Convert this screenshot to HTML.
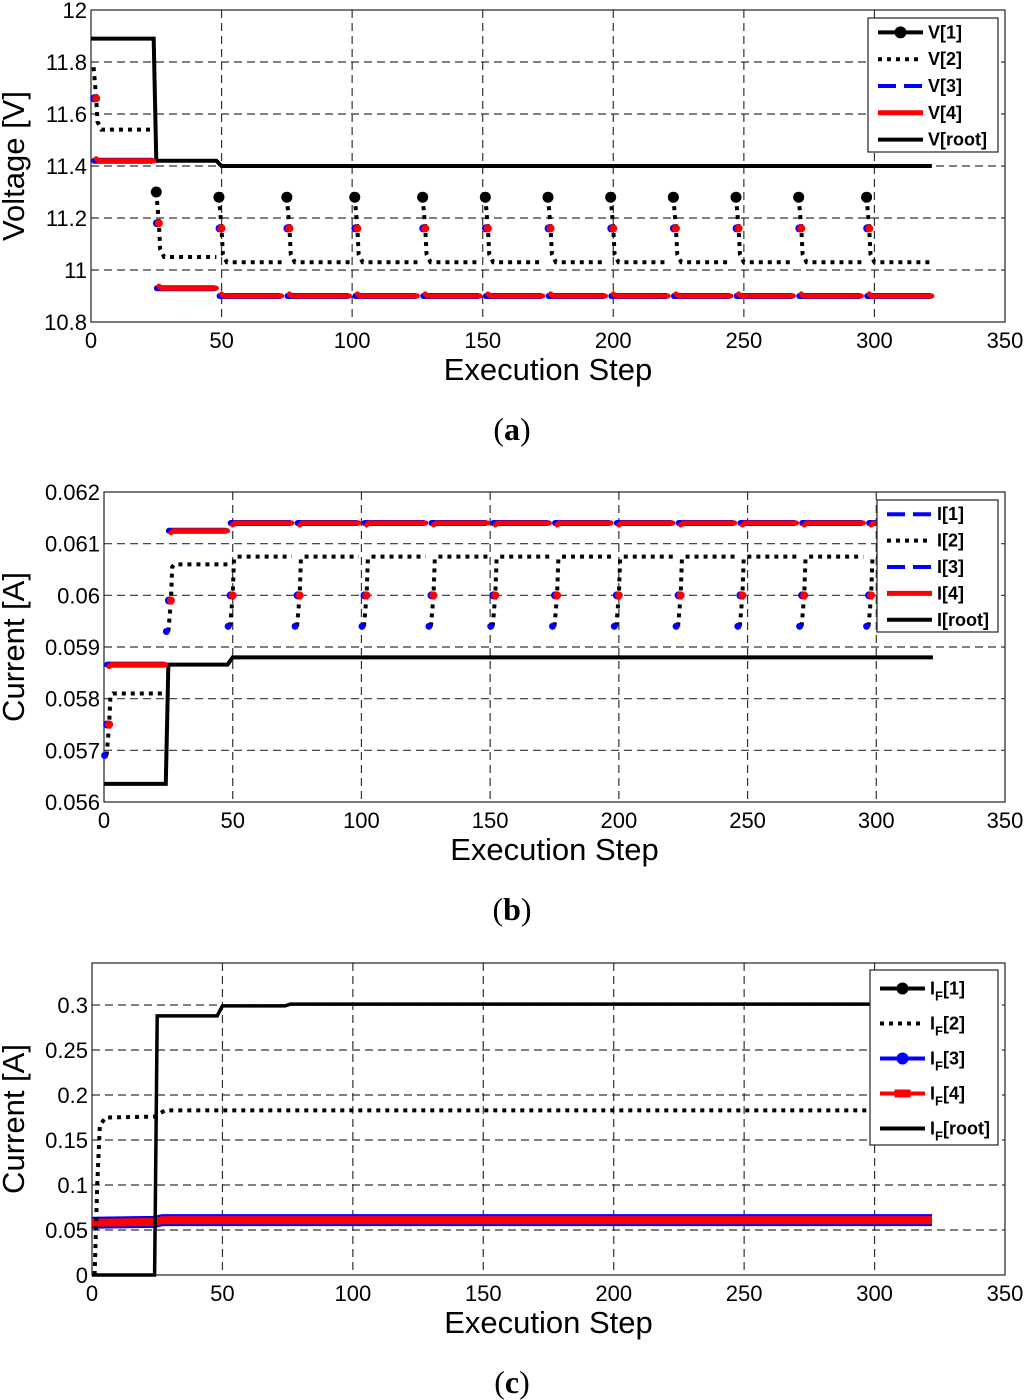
<!DOCTYPE html>
<html><head><meta charset="utf-8"><style>
html,body{margin:0;padding:0;background:#fff;}
svg{display:block;}
text{font-family:"Liberation Sans",sans-serif;}
text.cap{font-family:"Liberation Serif",serif;}
</style></head><body>
<svg id="fig" width="1024" height="1400" viewBox="0 0 1024 1400" xmlns="http://www.w3.org/2000/svg"></svg>
<script>
// ---------- data ----------
const cycleStart=[1,25,49,75,101,127,151,175,199,223,247,271,297];
const cycleEnd=[24,48,73,99,125,149,173,197,221,245,269,295,322];
// panel a (voltage)
const V1_peak=[11.78,11.30,11.28,11.28,11.28,11.28,11.28,11.28,11.28,11.28,11.28,11.28,11.28];
const V2_settle=[11.54,11.05,11.03,11.03,11.03,11.03,11.03,11.03,11.03,11.03,11.03,11.03,11.03];
const V34_mid=[11.66,11.18,11.16,11.16,11.16,11.16,11.16,11.16,11.16,11.16,11.16,11.16,11.16];
const V34_level=[11.42,10.93,10.90,10.90,10.90,10.90,10.90,10.90,10.90,10.90,10.90,10.90,10.90];
const Vroot_x=[0,24,25,48,50,322];
const Vroot_y=[11.89,11.89,11.42,11.42,11.40,11.40];
const A_yticks=[10.8,11,11.2,11.4,11.6,11.8,12];
const A_ylabels=["10.8","11","11.2","11.4","11.6","11.8","12"];
// panel b (current)
const I2_start=[0.0569,0.0593,0.0594,0.0594,0.0594,0.0594,0.0594,0.0594,0.0594,0.0594,0.0594,0.0594,0.0594];
const I34_mid=[0.0575,0.0599,0.0600,0.0600,0.0600,0.0600,0.0600,0.0600,0.0600,0.0600,0.0600,0.0600,0.0600];
const I2_settle=[0.0581,0.0606,0.06075,0.06075,0.06075,0.06075,0.06075,0.06075,0.06075,0.06075,0.06075,0.06075,0.06075];
const I34_level=[0.05866,0.06125,0.0614,0.0614,0.0614,0.0614,0.0614,0.0614,0.0614,0.0614,0.0614,0.0614,0.0614];
const Iroot_x=[0,24,25,48,50,322];
const Iroot_y=[0.05635,0.05635,0.05866,0.05866,0.0588,0.0588];
const B_yticks=[0.056,0.057,0.058,0.059,0.06,0.061,0.062];
const B_ylabels=["0.056","0.057","0.058","0.059","0.06","0.061","0.062"];
// panel c (flow current)
const IFroot_x=[0,24,25,48,50,74,76,322];
const IFroot_y=[0,0,0.288,0.288,0.299,0.299,0.301,0.301];
const IF2_x=[1,2,3,5,24,28,322];
const IF2_y=[0,0.1,0.165,0.175,0.176,0.183,0.183];
const IF34_x=[0,24,27,322];
const IF34_y=[0.058,0.059,0.061,0.061];
const C_yticks=[0,0.05,0.1,0.15,0.2,0.25,0.3];
const C_ylabels=["0","0.05","0.1","0.15","0.2","0.25","0.3"];
const xticks=[0,50,100,150,200,250,300,350];

// ---------- helpers ----------
const NS="http://www.w3.org/2000/svg";
const svg=document.getElementById('fig');
function el(tag,attrs,parent){const e=document.createElementNS(NS,tag);for(const k in attrs)e.setAttribute(k,attrs[k]);(parent||svg).appendChild(e);return e;}

function axes(id,L,R,T,B,ymin,ymax,yticks,ylabels,ylabel,letter,letterY){
  const g=el('g',{});
  
  
  const sx=v=>L+(v-0)/350*(R-L);
  const sy=v=>B-(v-ymin)/(ymax-ymin)*(B-T);
  el('rect',{x:L,y:T,width:R-L,height:B-T,fill:'#fff'},g);
  const grid=el('g',{stroke:'#333','stroke-width':1.2,'stroke-dasharray':'8 5'},g);
  
  
  xticks.forEach(v=>{if(v>0&&v<350)el('line',{x1:sx(v),x2:sx(v),y1:T,y2:B},grid);});
  yticks.forEach(v=>{const y=sy(v);if(y>T+1&&y<B-1)el('line',{x1:L,x2:R,y1:y,y2:y},grid);});
  const fr=el('rect',{x:L,y:T,width:R-L,height:B-T,fill:'none',stroke:'#222','stroke-width':1.2},g);
  
  
  const xl=el('g',{'font-size':22,'text-anchor':'middle'},g);
  
  
  xticks.forEach(v=>{const t=el('text',{x:sx(v),y:B+26},xl);t.textContent=v;});
  const yl=el('g',{'font-size':22,'text-anchor':'end'},g);
  
  
  yticks.forEach((v,i)=>{const t=el('text',{x:L-4,y:sy(v)+8},yl);t.textContent=ylabels[i];});
  const xt=el('text',{x:(L+R)/2,y:B+58,'font-size':31,'text-anchor':'middle'},g);
  xt.textContent='Execution Step';
  
  
  const yt=el('text',{x:0,y:0,'font-size':31,'text-anchor':'middle',transform:`translate(24,${(T+B)/2}) rotate(-90)`},g);
  yt.textContent=ylabel;
  
  
  const cap=el('text',{x:512,y:letterY,'font-size':32,'text-anchor':'middle','class':'cap'},g);
  cap.innerHTML='(<tspan font-weight="bold">'+letter+'</tspan>)';
  
  
  const plot=el('g',{},g);
  return {g,plot,sx,sy};
}
function poly(parent,pts,style){return el('polyline',Object.assign({points:pts.map(p=>p.join(',')).join(' '),fill:'none'},style),parent);}
const dotted={stroke:'#000','stroke-width':4,'stroke-dasharray':'4 5'};

// ---------- panel a ----------
(function(){
  const a=axes('voltage',91,1005,10,322,10.8,12,A_yticks,A_ylabels,'Voltage [V]','a',440);
  const {plot,sx,sy}=a;
  const r=poly(plot,Vroot_x.map((x,i)=>[sx(x),sy(Vroot_y[i])]),{stroke:'#000','stroke-width':4});
  
  
  cycleStart.forEach((s,i)=>{
    const e=cycleEnd[i];
    const p=V1_peak[i],st=V2_settle[i];
    const l2=poly(plot,[[sx(s),sy(p)],[sx(s+1),sy(V34_mid[i])],[sx(s+1.5),sy(st+0.03)],[sx(s+3),sy(st)],[sx(e),sy(st)]],dotted);
    
    
    const lb=poly(plot,[[sx(s+1)-2,sy(V34_level[i])],[sx(e)-2,sy(V34_level[i])]],{stroke:'#0000ff','stroke-width':6,'stroke-linecap':'round'});
    
    
    const lr=poly(plot,[[sx(s+1),sy(V34_level[i]+0.008)],[sx(s+2),sy(V34_level[i])],[sx(e),sy(V34_level[i])]],{stroke:'#ff0000','stroke-width':5,'stroke-linecap':'round'});
    
    
    const mb=el('circle',{cx:sx(s+1)-2,cy:sy(V34_mid[i]),r:4,fill:'#0000ff'},plot);
    
    
    const mr=el('circle',{cx:sx(s+1),cy:sy(V34_mid[i]),r:4,fill:'#ff0000'},plot);
    
    
    if(i>0){
      const d=el('circle',{cx:sx(s),cy:sy(p),r:5.5,fill:'#000'},plot);
      
      
    }
  });
  legend(a.g,'voltage-legend',868,18,130,134,[['V[1]','dot'],['V[2]','dotted'],['V[3]','bluedash'],['V[4]','red'],['V[root]','black']]);
})();

// ---------- panel b ----------
(function(){
  const b=axes('current',104,1005,492,802,0.056,0.062,B_yticks,B_ylabels,'Current [A]','b',920);
  const {plot,sx,sy}=b;
  const r=poly(plot,Iroot_x.map((x,i)=>[sx(x),sy(Iroot_y[i])]),{stroke:'#000','stroke-width':4});
  
  
  cycleStart.forEach((s,i)=>{
    const e=cycleEnd[i],st=I2_settle[i];
    const l2=poly(plot,[[sx(s),sy(I2_start[i])],[sx(s+1),sy(I34_mid[i])],[sx(s+1.5),sy(st-0.00005)],[sx(s+2.5),sy(st)],[sx(e),sy(st)]],dotted);
    
    
    const lb=poly(plot,[[sx(s+1)-2,sy(I34_level[i])],[sx(e)-2,sy(I34_level[i])]],{stroke:'#0000ff','stroke-width':6,'stroke-linecap':'round'});
    
    
    const lr=poly(plot,[[sx(s+1),sy(I34_level[i]-0.00004)],[sx(s+2),sy(I34_level[i])],[sx(e),sy(I34_level[i])]],{stroke:'#ff0000','stroke-width':5,'stroke-linecap':'round'});
    
    
    const sb=el('circle',{cx:sx(s)-2,cy:sy(I2_start[i]),r:3.5,fill:'#0000ff'},plot);
    
    
    const mb=el('circle',{cx:sx(s+1)-2,cy:sy(I34_mid[i]),r:4,fill:'#0000ff'},plot);
    
    
    const mr=el('circle',{cx:sx(s+1),cy:sy(I34_mid[i]),r:4,fill:'#ff0000'},plot);
    
    
  });
  legend(b.g,'current-legend',877,500,121,132,[['I[1]','bluedash'],['I[2]','dotted'],['I[3]','bluedash'],['I[4]','red'],['I[root]','black']]);
})();

// ---------- panel c ----------
(function(){
  const c=axes('flow-current',92,1005,963,1275,0,0.3467,C_yticks,C_ylabels,'Current [A]','c',1393);
  const {plot,sx,sy}=c;
  const lb=poly(plot,IF34_x.map((x,i)=>[sx(x),sy(IF34_y[i])]),{stroke:'#0000ff','stroke-width':12});
  
  
  const lr=poly(plot,IF34_x.map((x,i)=>[sx(x),sy(IF34_y[i])]),{stroke:'#ff0000','stroke-width':8});
  
  
  const l2=poly(plot,IF2_x.map((x,i)=>[sx(x),sy(IF2_y[i])]),dotted);
  
  
  const r=poly(plot,IFroot_x.map((x,i)=>[sx(x),sy(IFroot_y[i])]),{stroke:'#000','stroke-width':3.5});
  
  
  legend(c.g,'flow-current-legend',870,970,128,175,[['I<tspan dy="6" font-size="13">F</tspan><tspan dy="-6">[1]</tspan>','dot'],['I<tspan dy="6" font-size="13">F</tspan><tspan dy="-6">[2]</tspan>','dotted'],['I<tspan dy="6" font-size="13">F</tspan><tspan dy="-6">[3]</tspan>','bluedot'],['I<tspan dy="6" font-size="13">F</tspan><tspan dy="-6">[4]</tspan>','redsq'],['I<tspan dy="6" font-size="13">F</tspan><tspan dy="-6">[root]</tspan>','black']]);
})();

function legend(parent,name,x,y,w,h,items){
  const g=el('g',{},parent);
  
  
  el('rect',{x:x,y:y,width:w,height:h,fill:'#fff',stroke:'#222','stroke-width':1.2},g);
  const step=h/items.length;
  items.forEach((it,i)=>{
    const cy=y+step*(i+0.5)+1;
    const ig=el('g',{},g);
    
    
    const x1=x+10,x2=x+55;
    const st=it[1];
    if(st==='dot'||st==='black'){el('line',{x1,x2,y1:cy,y2:cy,stroke:'#000','stroke-width':4},ig);if(st==='dot')el('circle',{cx:(x1+x2)/2,cy,r:6,fill:'#000'},ig);}
    if(st==='dotted')el('line',{x1,x2,y1:cy,y2:cy,stroke:'#000','stroke-width':4,'stroke-dasharray':'4 5'},ig);
    if(st==='bluedash')el('line',{x1,x2,y1:cy,y2:cy,stroke:'#0000ff','stroke-width':4,'stroke-dasharray':'18 8'},ig);
    if(st==='red')el('line',{x1,x2,y1:cy,y2:cy,stroke:'#ff0000','stroke-width':5},ig);
    if(st==='bluedot'){el('line',{x1,x2,y1:cy,y2:cy,stroke:'#0000ff','stroke-width':4},ig);el('circle',{cx:(x1+x2)/2,cy,r:6,fill:'#0000ff'},ig);}
    if(st==='redsq'){el('line',{x1,x2,y1:cy,y2:cy,stroke:'#ff0000','stroke-width':4},ig);el('rect',{x:(x1+x2)/2-8,y:cy-4,width:16,height:8,fill:'#ff0000'},ig);}
    const t=el('text',{x:x+60,y:cy+6,'font-size':18,'font-weight':'bold'},ig);
    t.innerHTML=it[0];
  });
}
</script>
</body></html>
